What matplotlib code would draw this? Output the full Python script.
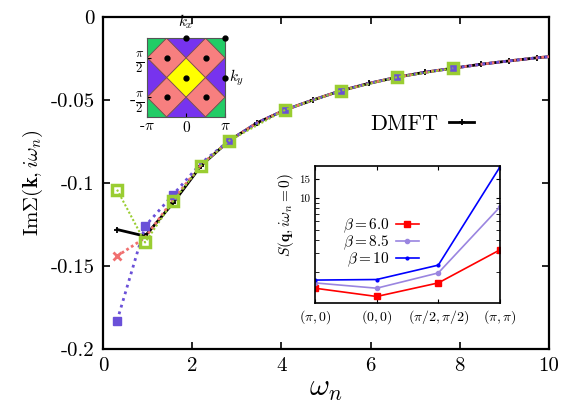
import numpy as np
import matplotlib
matplotlib.use("Agg")
import matplotlib.pyplot as plt
from matplotlib.patches import Polygon
from matplotlib.lines import Line2D

plt.rcParams['font.family'] = ['cmr10', 'DejaVu Serif']
plt.rcParams['mathtext.fontset'] = 'cm'
plt.rcParams['axes.unicode_minus'] = False

# Matsubara frequencies, beta = 10
beta = 10.0
n_idx = np.arange(17)
wn = (2 * n_idx + 1) * np.pi / beta

# common high-frequency tail (n >= 4)
tail = [-0.0745, -0.0637, -0.0559, -0.0499, -0.0443, -0.0399, -0.0362,
        -0.0332, -0.0308, -0.0284, -0.0264, -0.0245, -0.0230]

dmft = [-0.128, -0.132, -0.112, -0.0895] + tail
red_k = [-0.144, -0.133, -0.110, -0.089] + tail
blue_k = [-0.183, -0.126, -0.107, -0.088] + tail
green_n = [0, 1, 2, 3, 4, 6, 8, 10, 12]
green_k = [-0.104, -0.1358, -0.111, -0.0895, -0.0745, -0.0559, -0.0443, -0.0362, -0.0308]

# structure factor inset
q_labels = [r'$(\pi,0)$', r'$(0,0)$', r'$(\pi/2,\pi/2)$', r'$(\pi,\pi)$']
s_b60 = [1.39, 1.16, 1.56, 3.21]
s_b85 = [1.56, 1.39, 1.94, 8.19]
s_b10 = [1.66, 1.68, 2.30, 19.6]

fig = plt.figure(figsize=(5.79, 4.07), dpi=100)
ax = fig.add_axes([0.178, 0.1425, 0.770, 0.8155])

ax.plot(wn, dmft, color='black', lw=2, marker='+', ms=5, mew=1.3, zorder=2)
ax.plot(wn, red_k, color='#f07070', lw=2, ls=(0, (1, 1)), marker='x', ms=6, mew=2,
        markevery=[0], zorder=3)
ax.plot(wn, blue_k, color='#6a50d8', lw=2, ls=(0, (1, 1.5)), marker='s', ms=6,
        markevery=[0, 1, 2, 4, 6, 8, 10, 12], zorder=4)
ax.plot(wn[green_n], green_k, color='#9acd32', lw=1.5, ls=(0, (1, 1)), marker='s', ms=6.5,
        mfc='none', mec='#9acd32', mew=2.5, zorder=5)

ax.set_xlim(0, 10)
ax.set_ylim(-0.2, 0)
ax.set_xticks([0, 2, 4, 6, 8, 10], ['0', '2', '4', '6', '8', '10'])
ax.set_yticks([-0.2, -0.15, -0.1, -0.05, 0], ['-0.2', '-0.15', '-0.1', '-0.05', '0'])
ax.tick_params(direction='in', top=True, right=True, labelsize=15, length=5, width=1.2, pad=6)
for s in ax.spines.values():
    s.set_linewidth(1.6)
ax.set_xlabel(r'$\omega_n$', fontsize=22, labelpad=0)
ax.set_ylabel(r'Im$\Sigma(\mathbf{k},i\omega_n)$', fontsize=15, labelpad=4)

h = Line2D([], [], color='black', lw=2, marker='+', ms=5, mew=1.3)
ax.legend([h], ['DMFT'], loc='center right', bbox_to_anchor=(0.853, 0.695),
          bbox_transform=fig.transFigure, frameon=False, markerfirst=False,
          fontsize=16, handlelength=1.1, handletextpad=0.5)

# Brillouin zone inset
ax1 = fig.add_axes([0.254, 0.7125, 0.1347, 0.194])
p = np.pi
h2 = p / 2
centers = [((0, 0), '#ffff00'),
           ((h2, h2), '#f77f7f'), ((-h2, h2), '#f77f7f'), ((h2, -h2), '#f77f7f'), ((-h2, -h2), '#f77f7f'),
           ((0, p), '#7733ee'), ((0, -p), '#7733ee'), ((p, 0), '#7733ee'), ((-p, 0), '#7733ee'),
           ((p, p), '#22cc66'), ((-p, p), '#22cc66'), ((p, -p), '#22cc66'), ((-p, -p), '#22cc66')]
for (cx, cy), col in centers:
    poly = Polygon([(cx - h2, cy), (cx, cy + h2), (cx + h2, cy), (cx, cy - h2)],
                   closed=True, facecolor=col, edgecolor='#805050', lw=0.6)
    ax1.add_patch(poly)
dots_x = [0, h2, -h2, h2, -h2, 0, p, p]
dots_y = [0, h2, h2, -h2, -h2, p, p, 0]
ax1.plot(dots_x, dots_y, 'o', color='black', ms=3.5, clip_on=False, zorder=5)
ax1.set_xlim(-p, p)
ax1.set_ylim(-p, p)
ax1.set_xticks([-p, 0, p], [r'-$\pi$', r'$0$', r'$\pi$'])
ax1.set_yticks([-h2, h2], [r'-$\frac{\pi}{2}$', r'$\frac{\pi}{2}$'])
ax1.tick_params(direction='in', labelsize=11, length=3, pad=2)
ax1.tick_params(axis='y', labelsize=13)
for s in ax1.spines.values():
    s.set_linewidth(0.8)
    s.set_color('#555555')
ax1.text(0, p + 0.55, r'$k_x$', ha='center', va='bottom', fontsize=11)
ax1.text(p + 0.35, 0, r'$k_y$', ha='left', va='center', fontsize=11)

# structure factor inset
ax2 = fig.add_axes([0.544, 0.2548, 0.3195, 0.3373])
xq = np.arange(len(q_labels))
ax2.plot(xq, s_b60, color='#ff0000', lw=1.2, marker='s', ms=4, label=r'$\beta = 6.0$')
ax2.plot(xq, s_b85, color='#9a85e0', lw=1.2, marker='o', ms=3, label=r'$\beta = 8.5$')
ax2.plot(xq, s_b10, color='#0000ff', lw=1.2, marker='o', ms=2, label=r'$\beta = 10$')
ax2.set_yscale('log')
ax2.set_xlim(0, 3)
ax2.set_ylim(1, 20)
ax2.set_xticks(xq, q_labels)
ax2.set_yticks([10, 15], ['10', '15'])
ax2.set_yticks([2, 3, 4, 5, 6, 7, 8, 9], [''] * 8, minor=True)
ax2.tick_params(which='both', direction='in', right=True, top=True, labelsize=10, length=3)
ax2.tick_params(axis='y', labelsize=8)
for s in ax2.spines.values():
    s.set_linewidth(1.2)
ax2.set_ylabel(r'$S(\mathbf{q},i\omega_n=0)$', fontsize=11, labelpad=2)
ax2.yaxis.set_label_coords(-0.1, 0.64)
ax2.legend(loc='center right', bbox_to_anchor=(0.56, 0.44), frameon=False,
           markerfirst=False, fontsize=11, handlelength=1.5, handletextpad=0.4,
           labelspacing=-0.1, borderpad=0, borderaxespad=0)

fig.savefig('out.png', dpi=100)
